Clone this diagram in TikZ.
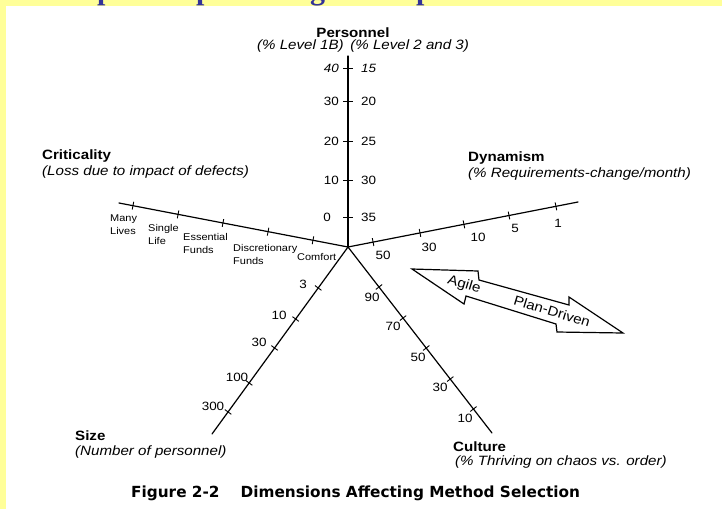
\documentclass[tikz,border=0pt]{standalone}
\usepackage{fontspec}
\setmainfont{Liberation Sans}[FakeStretch=1.12]
\newfontfamily\capfont{DejaVu Sans}
\newfontfamily\headfont{Liberation Serif}
\usetikzlibrary{calc}
\definecolor{pageyellow}{RGB}{255,255,153}
\definecolor{headblue}{RGB}{51,51,153}

\tikzset{
  axis/.style={line width=1.2pt, black, line cap=round},
  tickmark/.style={line width=0.9pt},
  title/.style={font=\fontsize{13.5}{16}\selectfont\bfseries, inner sep=0, anchor=west},
  subtitle/.style={font=\fontsize{13.5}{16}\selectfont\itshape, inner sep=0, anchor=west},
  num/.style={font=\fontsize{12}{14}\selectfont, inner sep=0},
  small/.style={font=\fontsize{9.8}{12.5}\selectfont, inner sep=0, align=left, anchor=north west},
  arrowbody/.style={line width=1.2pt, fill=white, line join=miter},
  arrowtext/.style={font=\fontsize{13.5}{16}\selectfont, inner sep=0, rotate=-17},
  headletter/.style={font=\headfont\bfseries\fontsize{30}{30}\selectfont, text=headblue, inner sep=0, anchor=base west},
}

% short mark across an axis: origin, axis end, fraction along, half length
\newcommand\axtick[4]{%
  \draw[tickmark] ($(#1)!#3!(#2)$) coordinate (tk)
    ($(tk)!#4!90:(#2)$) -- ($(tk)!#4!-90:(#2)$);}

\begin{document}
\begin{tikzpicture}[x=1pt, y=-1pt]
\useasboundingbox (0,0) rectangle (722,509);
\begin{scope}
\clip (0,0) rectangle (722,509);
% page frame
\fill[pageyellow] (0,0) rectangle (722,509);
\fill[white] (6,6) rectangle (722,509);
% slide heading, mostly above the frame
\node[headletter] (h1) at (97,-1) {p};
\node[headletter] (h2) at (196,-1) {p};
\node[headletter] (h3) at (310,-1) {g};
\node[headletter] (h4) at (416,-1) {p};
\end{scope}

% centre and axis ends
\coordinate (O) at (348,247);
\coordinate (P) at (348,56);
\coordinate (C) at (119,203);
\coordinate (D) at (578,202);
\coordinate (S) at (212,434);
\coordinate (U) at (492,433);

\draw[axis] (O) -- (P);
\draw[axis] (O) -- (C);
\draw[axis] (O) -- (D);
\draw[axis] (O) -- (S);
\draw[axis] (O) -- (U);

% ticks
\foreach \f in {0.157,0.351,0.555,0.764,0.937} {\axtick{O}{P}{\f}{5pt}}
\foreach \f in {0.153,0.349,0.546,0.742,0.939} {\axtick{O}{C}{\f}{4pt}}
\foreach \f in {0.109,0.313,0.504,0.700,0.904} {\axtick{O}{D}{\f}{4pt}}
\foreach \f in {0.219,0.385,0.540,0.727,0.882} {\axtick{O}{S}{\f}{4pt}}
\foreach \f in {0.215,0.382,0.543,0.710,0.871} {\axtick{O}{U}{\f}{4pt}}

% Personnel
\node[title, anchor=center] (pers) at (353,33) {Personnel};
\node[subtitle, anchor=center] (perssub) at (363,46) {(\% Level 1B)\enspace(\% Level 2 and 3)};
\node[num, anchor=east] (pl40) at (339,68) {\itshape 40};
\node[num, anchor=east] (pl30) at (339,101) {30};
\node[num, anchor=east] (pl20) at (339,141) {20};
\node[num, anchor=east] (pl10) at (339,180) {10};
\node[num, anchor=east] (pl0) at (331,217) {0};
\node[num, anchor=west] (pr15) at (361,68) {\itshape 15};
\node[num, anchor=west] (pr20) at (361,101) {20};
\node[num, anchor=west] (pr25) at (361,141) {25};
\node[num, anchor=west] (pr30) at (361,180) {30};
\node[num, anchor=west] (pr35) at (361,217) {35};

% Criticality
\node[title] (crit) at (42,156) {Criticality};
\node[subtitle] (critsub) at (42,172) {(Loss due to impact of defects)};
\node[small] (c1) at (110,214.6) {Many\\Lives};
\node[small] (c2) at (148,224.6) {Single\\Life};
\node[small] (c3) at (183,233.6) {Essential\\Funds};
\node[small] (c4) at (233,244.6) {Discretionary\\Funds};
\node[small] (c5) at (297,253.6) {Comfort};

% Dynamism
\node[title] (dyn) at (468,158) {Dynamism};
\node[subtitle] (dynsub) at (468,174) {(\% Requirements-change/month)};
\node[num] (d50) at (383,255) {50};
\node[num] (d30) at (429,247) {30};
\node[num] (d10) at (478,237) {10};
\node[num] (d5) at (515,228) {5};
\node[num] (d1) at (558,223) {1};

% Size
\node[title] (size) at (75,436) {Size};
\node[subtitle] (sizesub) at (75,452) {(Number of personnel)};
\node[num] (s3) at (303,284) {3};
\node[num] (s10) at (279,315) {10};
\node[num] (s30) at (259,342) {30};
\node[num] (s100) at (237,377) {100};
\node[num] (s300) at (213,406) {300};

% Culture
\node[title] (cult) at (453,447) {Culture};
\node[subtitle] (cultsub) at (455,462) {(\% Thriving on chaos vs. order)};
\node[num] (u90) at (372,297) {90};
\node[num] (u70) at (393,326) {70};
\node[num] (u50) at (418,357) {50};
\node[num] (u30) at (440,387) {30};
\node[num] (u10) at (465,418) {10};

% Agile / Plan-Driven double block arrow
\draw[arrowbody] (412,269) -- (478,271) -- (479,280) -- (569,305) -- (569,297)
  -- (623,333) -- (557,332) -- (556,324) -- (466,296) -- (464,304) -- cycle;
\node[arrowtext] (agile) at (464,285) {Agile};
\node[arrowtext] (plan) at (552,311) {Plan-Driven};

% caption
\node[font=\capfont\bfseries\fontsize{15.3}{18}\selectfont, inner sep=0, anchor=west] (cap) at (131,493)
  {Figure 2-2\hspace{21pt}Dimensions Affecting Method Selection};
\end{tikzpicture}
\end{document}
